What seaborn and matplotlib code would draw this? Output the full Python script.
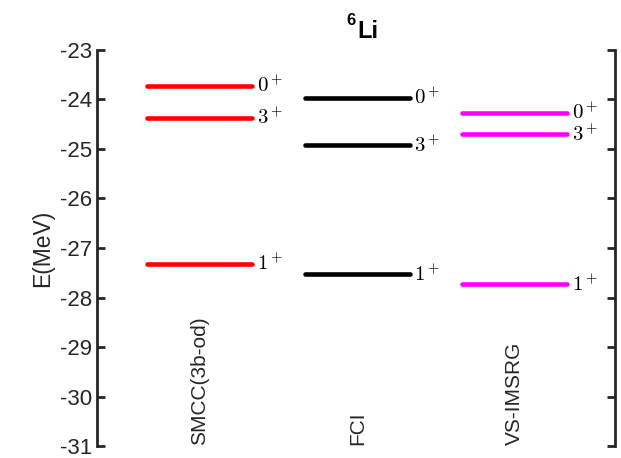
import matplotlib
matplotlib.use("Agg")
import matplotlib.pyplot as plt
import numpy as np
import pandas as pd
import seaborn as sns

# ---------------------------------------------------------------------------
# Data: 6Li low-lying levels (MeV) for three methods
# ---------------------------------------------------------------------------
methods = ["SMCC(3b-od)", "FCI", "VS-IMSRG"]
colors = ["#ff0000", "#000000", "#ff00ff"]
states = ["0^+", "3^+", "1^+"]
smcc_levels = [-23.72, -24.37, -27.32]
fci_levels = [-23.97, -24.93, -27.53]
vsimsrg_levels = [-24.27, -24.70, -27.73]
y_ticks = [-31, -30, -29, -28, -27, -26, -25, -24, -23]

levels = {"SMCC(3b-od)": smcc_levels, "FCI": fci_levels, "VS-IMSRG": vsimsrg_levels}

half_width = 0.333
rows = []
for i, m in enumerate(methods):
    xc = i + 1
    for s, e in zip(states, levels[m]):
        for x in (xc - half_width, xc + half_width):
            rows.append({"method": m, "state": f"{m}-{s}", "x": x, "E": e})
df = pd.DataFrame(rows)

sns.set_style("ticks")
plt.rcParams["font.family"] = ["Liberation Sans", "DejaVu Sans"]
plt.rcParams["mathtext.fontset"] = "cm"

fig = plt.figure(figsize=(6.21, 4.58), dpi=100)
ax = fig.add_axes([0.156, 0.026, 0.834, 0.865])

sns.lineplot(
    data=df, x="x", y="E", hue="method", units="state", estimator=None,
    palette=dict(zip(methods, colors)), linewidth=3.3, legend=False, ax=ax,
)

for i, m in enumerate(methods):
    xc = i + 1
    for s, e in zip(states, levels[m]):
        ax.text(xc + half_width + 0.03, e, f"${s}$", ha="left", va="center",
                fontsize=15, color="black")
    ax.text(xc, -30.97, m, rotation=90, ha="center", va="bottom",
            fontsize=15, color="#262626")

ax.set_xlim(0.346, 3.635)
ax.set_ylim(-31, -23)
ax.set_yticks(y_ticks)
ax.set_yticklabels([str(t) for t in y_ticks])
ax.set_xticks([])
ax.set_xlabel("")
ax.set_ylabel("E(MeV)", fontsize=16.5, color="#262626", labelpad=4)
ax.tick_params(axis="y", direction="in", length=6, width=2, labelsize=16,
               colors="#262626", right=True, left=True)
for side in ("left", "right"):
    ax.spines[side].set_visible(True)
    ax.spines[side].set_linewidth(2)
    ax.spines[side].set_color("#262626")
for side in ("top", "bottom"):
    ax.spines[side].set_visible(False)

# title: bold superscript 6 + Li
fig.text(0.575, 0.918, "Li", fontsize=17, fontweight="bold", ha="left",
         va="baseline", color="black")
fig.text(0.573, 0.945, "6", fontsize=12, fontweight="bold", ha="right",
         va="baseline", color="black")

fig.savefig("out.png", dpi=100)
